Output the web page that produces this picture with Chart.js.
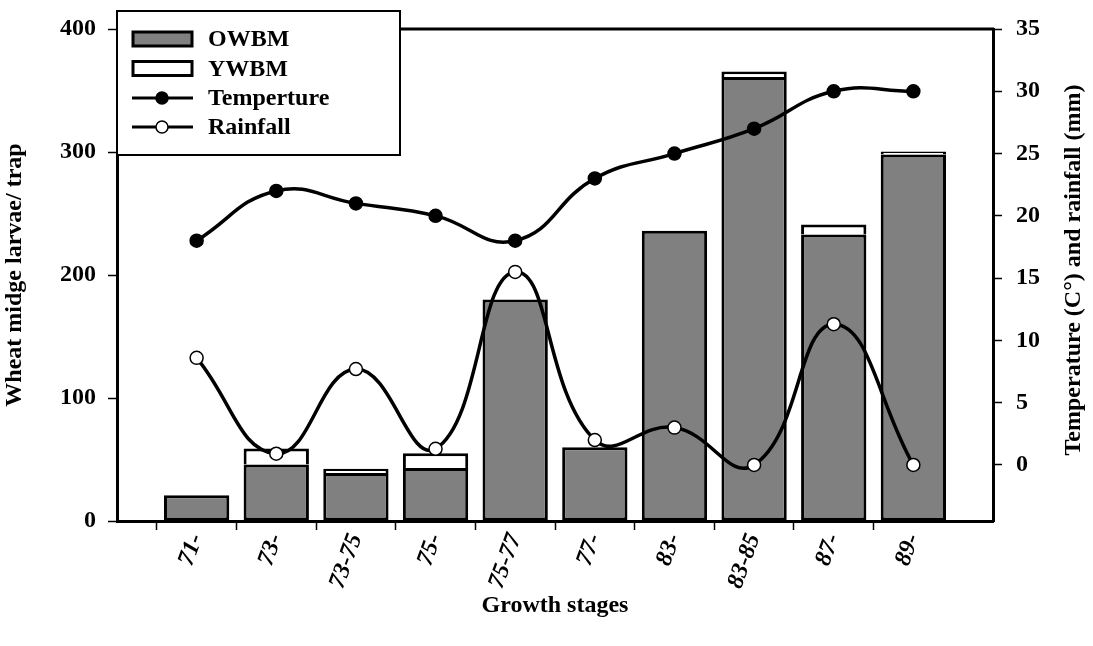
<!DOCTYPE html>
<html>
<head>
<meta charset="utf-8">
<script src="https://cdn.jsdelivr.net/npm/chart.js@4/dist/chart.umd.min.js"></script>
<style>
  body { margin: 0; background: #fff; }
  #graph { display: block; }
</style>
</head>
<body>
<canvas id="graph" width="1093" height="646"></canvas>
<script>
var stages = ['71-', '73-', '73-75', '75-', '75-77', '77-', '83-', '83-85', '87-', '89-'];
var owbm = [21, 46, 39, 43, 180, 60, 236, 361, 233, 298];
var ywbm = [0, 13, 3.5, 12, 0, 0, 0, 4.5, 8, 2.5];
var temperture = [18, 22, 21, 20, 18, 23, 25, 27, 30, 30];
var rainfall = [8.6, 0.9, 7.7, 1.3, 15.5, 2, 3, 0, 11.3, 0];
var leftTicks = [0, 100, 200, 300, 400];
var rightTicks = [0, 5, 10, 15, 20, 25, 30, 35];

var serif = 'Liberation Serif';

// one empty slot each side, like the original axis
function pad(arr) {
    return [null].concat(arr, [null]);
}

var labels = [''].concat(stages, ['']);

var frameAndLegend = {
    id: 'frameAndLegend',
    afterDraw: function (chart) {
        var ctx = chart.ctx;
        var area = chart.chartArea;
        ctx.save();

        // top border of the frame
        ctx.strokeStyle = '#000';
        ctx.lineWidth = 3;
        ctx.beginPath();
        ctx.moveTo(area.left - 1, area.top);
        ctx.lineTo(area.right + 1, area.top);
        ctx.stroke();

        // legend box
        var bx = area.left, by = 11, bw = 283, bh = 144;
        ctx.fillStyle = '#fff';
        ctx.fillRect(bx, by, bw, bh);
        ctx.lineWidth = 2;
        ctx.strokeRect(bx, by, bw, bh);

        var items = chart.data.datasets;
        var rows = [39, 68.5, 98, 127];
        ctx.font = 'bold 24px "' + serif + '"';
        ctx.textBaseline = 'middle';
        items.forEach(function (ds, i) {
            var y = rows[i];
            if (ds.type === 'bar') {
                ctx.fillStyle = ds.backgroundColor;
                ctx.fillRect(133, y - 7, 59, 14);
                ctx.lineWidth = 3;
                ctx.strokeRect(133, y - 7, 59, 14);
            } else {
                ctx.lineWidth = 3;
                ctx.beginPath();
                ctx.moveTo(132, y);
                ctx.lineTo(193, y);
                ctx.stroke();
                ctx.beginPath();
                ctx.arc(162, y, 6, 0, Math.PI * 2);
                ctx.fillStyle = ds.pointBackgroundColor;
                ctx.fill();
                ctx.lineWidth = 1.5;
                ctx.stroke();
            }
            ctx.fillStyle = '#000';
            ctx.textAlign = 'left';
            ctx.fillText(ds.label, 208, y + 1);
        });

        // right axis title, reads bottom to top
        ctx.translate(1074, (area.top + area.bottom) / 2 - 5);
        ctx.rotate(-Math.PI / 2);
        ctx.textAlign = 'center';
        ctx.fillText('Temperature (C\u00B0) and rainfall (mm)', 0, 0);
        ctx.restore();
    }
};

var context = document.querySelector('#graph').getContext('2d');

var chart = new Chart(context, {
    data: {
        labels: labels,
        datasets: [
            {
                type: 'bar',
                label: 'OWBM',
                data: pad(owbm),
                backgroundColor: '#808080',
                borderColor: '#000',
                borderWidth: 3,
                borderSkipped: false,
                yAxisID: 'y',
                stack: 'larvae',
                order: 2
            },
            {
                type: 'bar',
                label: 'YWBM',
                data: pad(ywbm),
                backgroundColor: '#ffffff',
                borderColor: '#000',
                borderWidth: 3,
                borderSkipped: 'start',
                yAxisID: 'y',
                stack: 'larvae',
                order: 2
            },
            {
                type: 'line',
                label: 'Temperture',
                data: pad(temperture),
                borderColor: '#000',
                borderWidth: 3.5,
                tension: 0.45,
                pointRadius: 6.5,
                pointBorderWidth: 1.5,
                pointBackgroundColor: '#000',
                pointBorderColor: '#000',
                yAxisID: 'y1',
                order: 1
            },
            {
                type: 'line',
                label: 'Rainfall',
                data: pad(rainfall),
                borderColor: '#000',
                borderWidth: 3.5,
                tension: 0.45,
                pointRadius: 6.5,
                pointBorderWidth: 1.5,
                pointBackgroundColor: '#fff',
                pointBorderColor: '#000',
                yAxisID: 'y1',
                order: 1
            }
        ]
    },
    options: {
        responsive: false,
        animation: false,
        layout: { padding: { top: 29, left: 0, right: 0, bottom: 0 } },
        plugins: {
            legend: { display: false },
            tooltip: { enabled: false }
        },
        datasets: {
            bar: { categoryPercentage: 1, barPercentage: 0.82 }
        },
        scales: {
            x: {
                type: 'category',
                offset: false,
                stacked: true,
                grid: {
                    drawOnChartArea: false,
                    tickLength: 9,
                    tickWidth: 1.5,
                    tickColor: function (c) {
                        return (c.index === 0 || c.index === labels.length - 1) ? 'rgba(0,0,0,0)' : '#000';
                    }
                },
                border: { display: true, color: '#000', width: 3 },
                ticks: {
                    autoSkip: false,
                    maxRotation: 70,
                    minRotation: 70,
                    padding: 0,
                    color: '#000',
                    font: { family: serif, size: 24, weight: 'bold', style: 'italic' }
                },
                title: {
                    display: true,
                    text: 'Growth stages',
                    color: '#000',
                    font: { family: serif, size: 24, weight: 'bold' },
                    padding: { top: 0, bottom: 26 }
                },
                afterFit: function (scale) { scale.height = 125; }
            },
            y: {
                position: 'left',
                stacked: true,
                min: 0,
                max: 400,
                afterBuildTicks: function (scale) {
                    scale.ticks = leftTicks.map(function (v) { return { value: v }; });
                },
                grid: {
                    drawOnChartArea: false,
                    tickLength: 9,
                    tickWidth: 1.5,
                    tickColor: '#000'
                },
                border: { display: true, color: '#000', width: 3 },
                ticks: {
                    padding: 12,
                    color: '#000',
                    font: { family: serif, size: 24, weight: 'bold' }
                },
                title: {
                    display: true,
                    text: 'Wheat midge larvae/ trap',
                    color: '#000',
                    font: { family: serif, size: 24, weight: 'bold' },
                    padding: { top: 0, bottom: 6 }
                },
                afterFit: function (scale) { scale.width = 117; }
            },
            y1: {
                position: 'right',
                min: -4.5,
                max: 35,
                afterBuildTicks: function (scale) {
                    scale.ticks = rightTicks.map(function (v) { return { value: v }; });
                },
                grid: {
                    drawOnChartArea: false,
                    tickLength: 9,
                    tickWidth: 1.5,
                    tickColor: '#000'
                },
                border: { display: true, color: '#000', width: 3 },
                ticks: {
                    padding: 14,
                    color: '#000',
                    font: { family: serif, size: 24, weight: 'bold' }
                },
                afterFit: function (scale) { scale.width = 100; }
            }
        }
    },
    plugins: [frameAndLegend]
});
</script>
</body>
</html>
